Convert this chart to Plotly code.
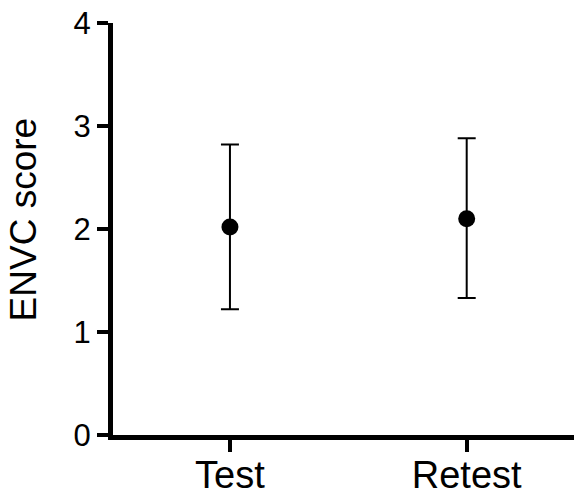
import plotly.graph_objects as go

categories = ["Test", "Retest"]
means = [2.02, 2.10]
upper = [2.82, 2.88]
lower = [1.22, 1.33]

err_plus = [u - m for u, m in zip(upper, means)]
err_minus = [m - l for m, l in zip(means, lower)]

fig = go.Figure()
fig.add_trace(go.Scatter(
    x=[0, 1], y=means, mode="markers",
    marker=dict(color="black", size=17),
    error_y=dict(type="data", symmetric=False, array=err_plus, arrayminus=err_minus,
                 color="black", thickness=2, width=9),
    showlegend=False,
))

font_family = "Liberation Sans, Arial, sans-serif"
fig.update_layout(
    width=574, height=485,
    margin=dict(l=105, r=0, t=15, b=58),
    plot_bgcolor="white", paper_bgcolor="white",
    xaxis=dict(
        range=[-0.494, 1.487], tickmode="array", tickvals=[0, 1], ticktext=categories,
        showgrid=False, zeroline=False, showline=True, linecolor="black", linewidth=5,
        ticks="outside", ticklen=12, tickwidth=4, tickcolor="black", automargin=False,
        ticklabelstandoff=-10, ticklabeloverflow="allow",
        tickfont=dict(family=font_family, size=38, color="black"),
    ),
    yaxis=dict(
        range=[0, 4], tickvals=[0, 1, 2, 3, 4], automargin=False,
        showgrid=False, zeroline=False, showline=True, linecolor="black", linewidth=5,
        ticks="outside", ticklen=11, tickwidth=4, tickcolor="black",
        ticklabeloverflow="allow",
        tickfont=dict(family=font_family, size=31, color="black"),
    ),
    annotations=[dict(
        text="ENVC score", textangle=-90, showarrow=False,
        xref="paper", yref="paper", x=-0.1908, y=0.522,
        xanchor="center", yanchor="middle",
        font=dict(family=font_family, size=37, color="black"),
    )],
)

fig.write_html("out.html")
